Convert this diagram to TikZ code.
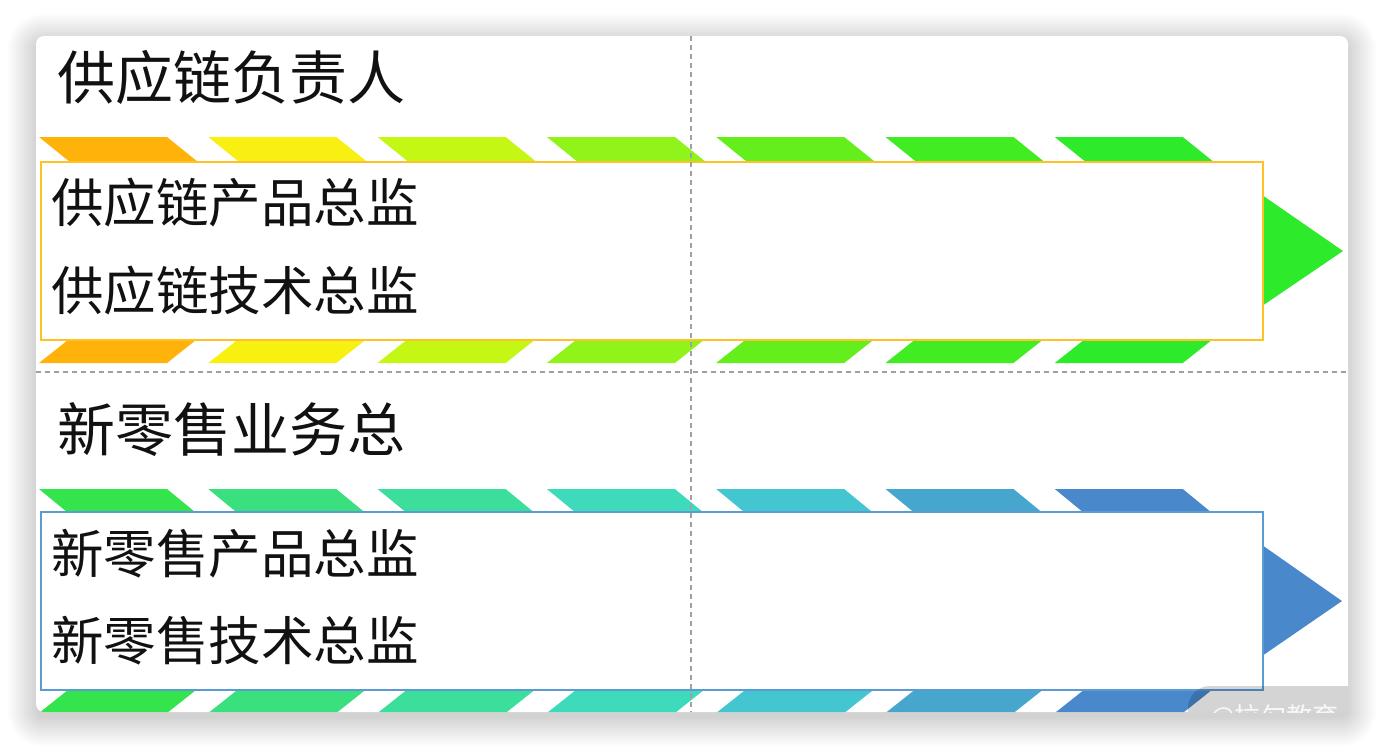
\documentclass[tikz,border=0pt]{standalone}
\usepackage{fontspec}
\newfontfamily\cjk{Noto Sans CJK SC}
\definecolor{sA}{HTML}{FFB20A}
\definecolor{sB}{HTML}{F8F010}
\definecolor{sC}{HTML}{C4F814}
\definecolor{sD}{HTML}{90F41A}
\definecolor{sE}{HTML}{64EE1C}
\definecolor{sF}{HTML}{42EC22}
\definecolor{sG}{HTML}{2DEA2A}
\definecolor{tA}{HTML}{33E44C}
\definecolor{tB}{HTML}{3AE07E}
\definecolor{tC}{HTML}{3CDE9C}
\definecolor{tD}{HTML}{3EDABC}
\definecolor{tE}{HTML}{44C6D0}
\definecolor{tF}{HTML}{46A6CE}
\definecolor{tG}{HTML}{4A88CC}
\definecolor{boxone}{HTML}{FFC125}
\definecolor{boxtwo}{HTML}{5B9BD5}
\definecolor{dashgray}{HTML}{A0A0A0}
\definecolor{txt}{HTML}{111111}
\tikzset{
  titletext/.style={anchor=west,inner sep=0pt,text=txt,font=\cjk\fontsize{58}{60}\selectfont,text height=0.88em,text depth=0.12em},
  subtext/.style={anchor=west,inner sep=0pt,text=txt,font=\cjk\fontsize{52.5}{54}\selectfont,text height=0.88em,text depth=0.12em},
  guide/.style={draw=dashgray,line width=1.3pt,dash pattern=on 5pt off 4pt},
  framebox/.style={fill=white,line width=1.5pt},
}
\begin{document}
\begin{tikzpicture}[x=1pt,y=-1pt]
\useasboundingbox (0,0) rectangle (1384,748);
\fill[white] (0,0) rectangle (1384,748);
% shadow
\foreach \k in {0,2,...,28}{
  \pgfmathsetmacro\rr{8+\k}
  \fill[black,fill opacity=0.012,rounded corners=\rr pt] (36-\k,36-\k+6) rectangle (1348+\k,712+\k+6);
}
% card
\fill[white,rounded corners=8pt] (36,36) rectangle (1348,712);
\begin{scope}
\clip[rounded corners=8pt] (36,36) rectangle (1348,712);
% section 1 stripes
\foreach \c [count=\i from 0] in {sA,sB,sC,sD,sE,sF,sG}{
  \pgfmathsetmacro\xo{39+169.3*\i}
  \fill[\c] (\xo,137) -- ++(128,0) -- ++(31,25) -- ++(-128,0) -- cycle;
  \fill[\c] (\xo+29,340) -- ++(128,0) -- ++(-29,23) -- ++(-128,0) -- cycle;
}
\fill[sG] (1262,195) -- (1343,251) -- (1262,306) -- cycle;
\draw[framebox,draw=boxone] (41,162) rectangle (1263,340);
% section 2 stripes
\foreach \c [count=\i from 0] in {tA,tB,tC,tD,tE,tF,tG}{
  \pgfmathsetmacro\xo{39+169.3*\i}
  \fill[\c] (\xo,489) -- ++(128,0) -- ++(28,23) -- ++(-128,0) -- cycle;
  \fill[\c] (\xo+29,690) -- ++(128,0) -- ++(-29,23) -- ++(-128,0) -- cycle;
}
\fill[tG] (1262,545) -- (1342,601) -- (1262,656) -- cycle;
\draw[framebox,draw=boxtwo] (41,512) rectangle (1263,690);
% texts
\node[titletext] (t1) at (57,96) {供应链负责人};
\node[subtext] (t1a) at (51,219) {供应链产品总监};
\node[subtext] (t1b) at (51,307) {供应链技术总监};
\node[titletext] (t2) at (57,448) {新零售业务总};
\node[subtext] (t2a) at (51,570) {新零售产品总监};
\node[subtext] (t2b) at (51,657) {新零售技术总监};
% guides
\draw[guide] (691,36) -- (691,712);
\draw[guide] (36,372) -- (1348,372);
% watermark
\fill[black,fill opacity=0.17,rounded corners=22pt] (1188,686) rectangle (1420,770);
\node[anchor=west,inner sep=0pt,text=white,text opacity=0.85,font=\cjk\fontsize{26}{28}\selectfont] (wm) at (1210,718) {@拉勾教育};
\end{scope}
\end{tikzpicture}
\end{document}
